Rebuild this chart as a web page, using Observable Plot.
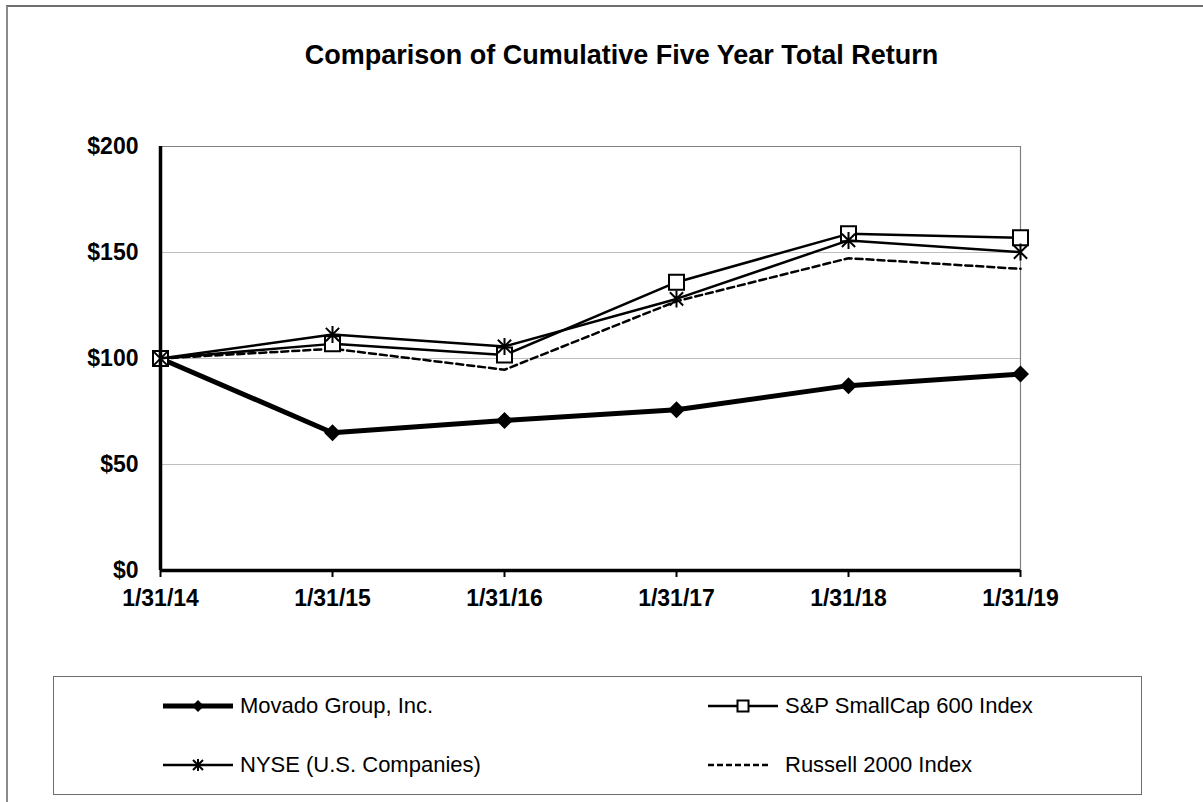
<!DOCTYPE html>
<html><head><meta charset="utf-8">
<script src="https://cdn.jsdelivr.net/npm/d3@7"></script>
<script src="https://cdn.jsdelivr.net/npm/@observablehq/plot@0.6"></script>
<style>
body{margin:0;background:#fff;font-family:Arial,"Liberation Sans",sans-serif;}
#wrap{position:relative;width:1203px;height:802px;overflow:hidden;background:#fff}
#frame{position:absolute;left:6px;top:5px;width:1400px;height:1000px;border-left:2px solid #8a8a8a;border-top:2px solid #6e6e6e;}
#title{position:absolute;left:20px;width:1203px;top:39px;text-align:center;font-weight:bold;font-size:27px;line-height:32px;color:#000}
#chart{position:absolute;left:0;top:0}
#legend{position:absolute;left:53px;top:676px;width:1087px;height:117px;border:1px solid #6e6e6e;}
.item{position:absolute;display:flex;align-items:center;font-size:22px;height:30px;white-space:nowrap;color:#000}
.item svg{margin-right:7px}
</style></head>
<body>
<div id="wrap">
  <div id="frame"></div>
  <div id="title">Comparison of Cumulative Five Year Total Return</div>
  <div id="chart"></div>
  <div id="legend"></div>
</div>
<script>
// ---- data ----
const dates = ["1/31/14", "1/31/15", "1/31/16", "1/31/17", "1/31/18", "1/31/19"];
const movado  = [100, 65.0, 70.8, 75.8, 87.2, 92.7];
const sp600   = [100, 106.9, 101.6, 136.0, 158.8, 156.9];
const nyse    = [100, 111.3, 105.7, 128.1, 155.7, 150.2];
const russell = [100, 104.6, 94.7, 127.0, 147.3, 142.3];
const seriesNames = ["Movado Group, Inc.", "S&P SmallCap 600 Index", "NYSE (U.S. Companies)", "Russell 2000 Index"];
const yTicks = [0, 50, 100, 150, 200];
const gridTicks = [50, 100, 150];

const rows = (name, vals) => dates.map((d, i) => ({date: d, value: vals[i], series: name}));
const dMov = rows(seriesNames[0], movado);
const dSP = rows(seriesNames[1], sp600);
const dNY = rows(seriesNames[2], nyse);
const dRu = rows(seriesNames[3], russell);

// custom marker symbols (r = half extent)
const mk = (fn) => ({draw(ctx, size) { const r = Math.sqrt(size / Math.PI); fn(ctx, r); }});
const diamondSym = mk((c, r) => { c.moveTo(0, -r); c.lineTo(r, 0); c.lineTo(0, r); c.lineTo(-r, 0); c.closePath(); });
const squareSym = mk((c, r) => { c.moveTo(-r, -r); c.lineTo(r, -r); c.lineTo(r, r); c.lineTo(-r, r); c.closePath(); });
const starSym = mk((c, r) => {
  const k = r * 0.78;
  c.moveTo(0, -r); c.lineTo(0, r);
  c.moveTo(-k, -k); c.lineTo(k, k);
  c.moveTo(-k, k); c.lineTo(k, -k);
});

const chart = Plot.plot({
  width: 1203,
  height: 640,
  marginLeft: 160,
  marginRight: 183,
  marginTop: 146,
  marginBottom: 70,
  style: {fontFamily: "Arial, 'Liberation Sans', sans-serif", background: "transparent", overflow: "visible"},
  x: {type: "point", domain: dates, padding: 0, label: null},
  y: {domain: [0, 200], label: null},
  marks: [
    Plot.ruleY(gridTicks, {stroke: "#bfbfbf", strokeWidth: 1.2}),
    Plot.ruleY([200], {stroke: "#808080", strokeWidth: 1.2}),
    Plot.ruleX([dates[dates.length - 1]], {stroke: "#808080", strokeWidth: 1.2}),
    Plot.axisY({ticks: yTicks, tickFormat: d => "$" + d, tickSize: 0, tickPadding: 22, fontSize: 23, fontWeight: "bold", fill: "#000"}),
    Plot.axisX({tickSize: 7, tickPadding: 12, fontSize: 23, fontWeight: "bold", fill: "#000", stroke: "#000", strokeWidth: 2}),
    Plot.line(dMov, {x: "date", y: "value", stroke: "#000", strokeWidth: 5}),
    Plot.dot(dMov, {x: "date", y: "value", symbol: diamondSym, r: 8.5, fill: "#000", stroke: "none"}),
    Plot.line(dRu, {x: "date", y: "value", stroke: "#000", strokeWidth: 2.5, strokeDasharray: "7,4"}),
    Plot.line(dSP, {x: "date", y: "value", stroke: "#000", strokeWidth: 2.5}),
    Plot.dot(dSP, {x: "date", y: "value", symbol: squareSym, r: 7.5, fill: "#fff", stroke: "#000", strokeWidth: 2}),
    Plot.line(dNY, {x: "date", y: "value", stroke: "#000", strokeWidth: 2.5}),
    Plot.dot(dNY, {x: "date", y: "value", symbol: starSym, r: 8.5, fill: "none", stroke: "#000", strokeWidth: 2}),
    Plot.ruleX([dates[0]], {stroke: "#000", strokeWidth: 3.5}),
    Plot.ruleY([0], {stroke: "#000", strokeWidth: 3.5})
  ]
});
document.getElementById("chart").appendChild(chart);

// ---- legend ----
const legendItems = [
  {name: seriesNames[0], x: 163, y: 706, sw: `<line x1="0" y1="15" x2="70" y2="15" stroke="#000" stroke-width="5"/><path d="M35,9 L41,15 L35,21 L29,15Z" fill="#000"/>`},
  {name: seriesNames[1], x: 708, y: 706, sw: `<line x1="0" y1="15" x2="70" y2="15" stroke="#000" stroke-width="2.5"/><rect x="29.5" y="9.5" width="11" height="11" fill="#fff" stroke="#000" stroke-width="2"/>`},
  {name: seriesNames[2], x: 163, y: 765, sw: `<line x1="0" y1="15" x2="70" y2="15" stroke="#000" stroke-width="2.5"/><path d="M35,9 L35,21 M30,10 L40,20 M30,20 L40,10" stroke="#000" stroke-width="2"/>`},
  {name: seriesNames[3], x: 708, y: 765, sw: `<line x1="0" y1="15" x2="63" y2="15" stroke="#000" stroke-width="2.5" stroke-dasharray="6,3"/>`}
];
const wrap = document.getElementById("wrap");
for (const it of legendItems) {
  const div = document.createElement("div");
  div.className = "item";
  div.style.left = it.x + "px";
  div.style.top = (it.y - 15) + "px";
  div.innerHTML = `<svg width="70" height="30">${it.sw}</svg><span>${it.name.replace(/&/g, "&amp;")}</span>`;
  wrap.appendChild(div);
}
</script>
</body></html>
